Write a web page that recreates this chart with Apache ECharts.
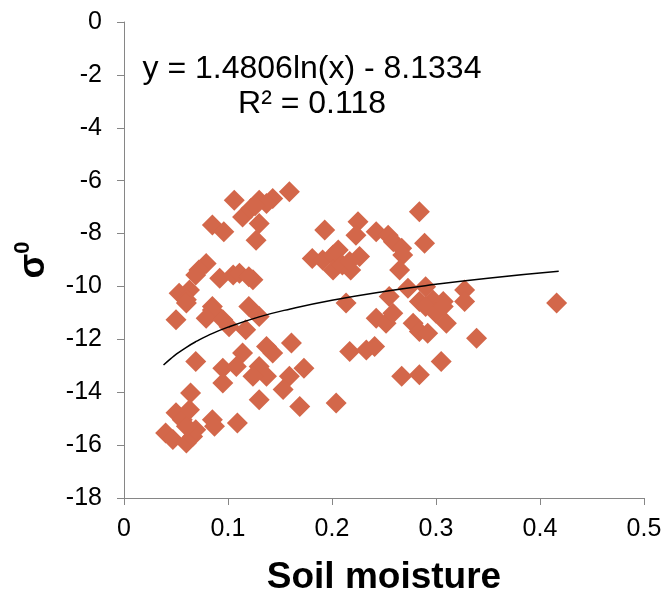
<!DOCTYPE html>
<html>
<head>
<meta charset="utf-8">
<script src="https://cdn.jsdelivr.net/npm/echarts@6/dist/echarts.min.js"></script>
<style>html,body{margin:0;padding:0;background:#fff}#c{width:667px;height:595px}</style>
</head>
<body>
<div id="c"></div>
<script>
const soilMoisture = [0.159,0.106,0.130,0.143,0.137,0.114,0.130,0.127,0.085,0.096,0.181,0.079,0.072,0.069,0.092,0.105,0.111,0.124,0.053,0.063,0.060,0.085,0.120,0.060,0.050,0.085,0.079,0.095,0.101,0.130,0.117,0.069,0.095,0.114,0.108,0.095,0.137,0.143,0.130,0.137,0.124,0.161,0.173,0.159,0.153,0.130,0.169,0.064,0.050,0.056,0.040,0.047,0.060,0.066,0.069,0.060,0.085,0.087,0.109,0.063,0.284,0.193,0.225,0.223,0.2425,0.254,0.259,0.267,0.268,0.289,0.265,0.191,0.201,0.206,0.201,0.210,0.218,0.2265,0.217,0.273,0.290,0.297,0.284,0.307,0.3275,0.3275,0.2135,0.255,0.416,0.2425,0.252,0.2585,0.278,0.284,0.290,0.292,0.300,0.310,0.307,0.339,0.217,0.233,0.241,0.305,0.267,0.284,0.204,0.120,0.122,0.126];
const sigma0 = [-6.42,-6.74,-6.74,-6.67,-6.86,-7.37,-7.62,-8.25,-7.68,-7.93,-8.94,-9.13,-9.38,-9.57,-9.69,-9.57,-9.50,-9.75,-10.26,-10.13,-10.50,-10.76,-10.76,-10.63,-11.26,-10.89,-11.20,-11.26,-11.52,-11.14,-11.64,-12.84,-13.09,-12.52,-13.03,-13.65,-12.27,-12.52,-13.03,-13.40,-13.40,-12.14,-13.09,-13.40,-13.90,-14.28,-14.54,-14.03,-14.78,-15.04,-15.54,-15.79,-15.92,-15.67,-15.42,-15.29,-15.04,-15.29,-15.16,-14.66,-7.18,-7.87,-7.55,-8.06,-7.93,-8.06,-8.31,-8.56,-8.81,-8.37,-9.38,-9.00,-8.81,-8.62,-9.38,-9.19,-9.38,-8.87,-9.06,-10.07,-10.01,-10.51,-10.57,-10.57,-10.13,-10.57,-10.63,-10.38,-10.63,-11.20,-11.39,-11.01,-11.39,-11.70,-10.76,-11.77,-11.01,-11.39,-10.76,-11.96,-12.46,-12.40,-12.27,-12.84,-13.40,-13.34,-14.41,-9.63,-7.05,-6.95];
const trendX = [0.038,0.045,0.05,0.06,0.07,0.08,0.1,0.13,0.16,0.2,0.25,0.3,0.35,0.418];
const trendY = [-12.97,-12.73,-12.57,-12.30,-12.07,-11.87,-11.54,-11.15,-10.85,-10.52,-10.19,-9.92,-9.69,-9.43];
const xTicks = [0,0.1,0.2,0.3,0.4,0.5];
const yTicks = [0,-2,-4,-6,-8,-10,-12,-14,-16,-18];
const eqLine = 'y = 1.4806ln(x) - 8.1334';
const r2Line = 'R² = 0.118';

const font = '"Liberation Sans", Arial, sans-serif';
const chart = echarts.init(document.getElementById('c'), null, {renderer:'canvas'});
chart.setOption({
  animation: false,
  backgroundColor: '#fff',
  grid: {left:124, right:23, top:22, bottom:97, containLabel:false, outerBoundsMode:'none'},
  xAxis: {
    type:'value', min:xTicks[0], max:xTicks[xTicks.length-1], interval:0.1,
    splitLine:{show:false},
    axisLine:{onZero:false, lineStyle:{color:'#868686', width:1}},
    axisTick:{show:true, length:7, lineStyle:{color:'#868686'}},
    axisLabel:{fontSize:25, color:'#000', fontFamily:font, margin:19,
      formatter: v => String(Math.round(v*10)/10)},
    name:'Soil moisture', nameLocation:'middle', nameGap:61,
    nameTextStyle:{fontSize:37, fontWeight:'bold', color:'#000', fontFamily:font}
  },
  yAxis: {
    type:'value', min:yTicks[yTicks.length-1], max:yTicks[0], interval:2,
    splitLine:{show:false},
    axisLine:{onZero:false, lineStyle:{color:'#868686', width:1}},
    axisTick:{show:true, length:7, lineStyle:{color:'#868686'}},
    axisLabel:{fontSize:25, color:'#000', fontFamily:font, margin:22},
    name:'{s|σ}{z|0}', nameLocation:'middle', nameGap:72, nameRotate:90,
    nameTextStyle:{color:'#000', fontFamily:font,
      rich:{
        s:{fontSize:36, fontWeight:'bold', fontFamily:font, color:'#000', verticalAlign:'bottom'},
        z:{fontSize:22, fontWeight:'bold', fontFamily:font, color:'#000', verticalAlign:'top', padding:[0,0,18,0]}
      }}
  },
  graphic: [
    {type:'text', x:312, y:69, style:{text:eqLine, fontSize:32, fontFamily:font, fill:'#000', textAlign:'center', textVerticalAlign:'middle'}},
    {type:'text', x:312, y:104, style:{text:r2Line, fontSize:32, fontFamily:font, fill:'#000', textAlign:'center', textVerticalAlign:'middle'}}
  ],
  series: [
    {type:'scatter', symbol:'diamond', symbolSize:21,
     itemStyle:{color:'#D3674A', opacity:1},
     data: soilMoisture.map((x,i)=>[x, sigma0[i]])},
    {type:'line', smooth:true, showSymbol:false, symbol:'none',
     lineStyle:{color:'#000', width:1.5},
     data: trendX.map((x,i)=>[x, trendY[i]]), z:3}
  ]
});
</script>
</body>
</html>
